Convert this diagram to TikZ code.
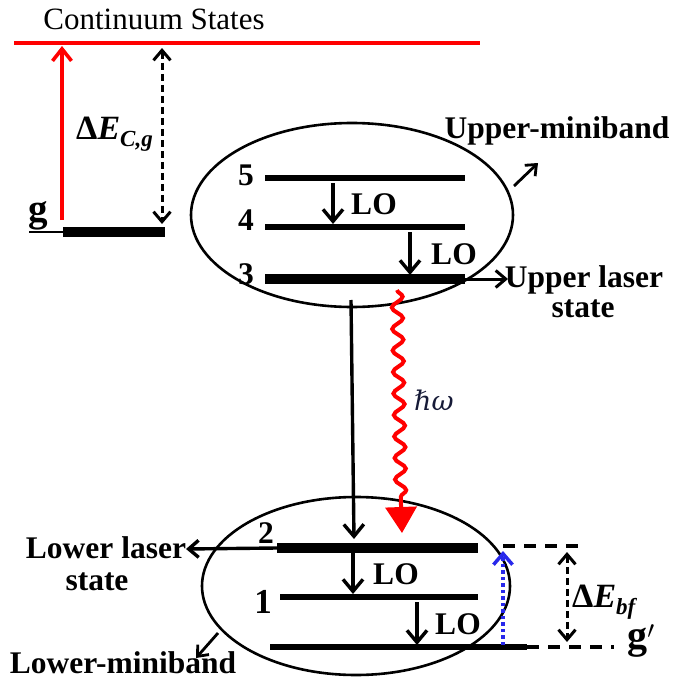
\documentclass[tikz,border=0pt]{standalone}
\usepackage{fontspec}
\setmainfont{Liberation Serif}
\newfontfamily\dvserif{DejaVu Serif}
\usetikzlibrary{arrows.meta,shapes.geometric,decorations.pathmorphing}
\definecolor{navy}{RGB}{22,26,55}
\definecolor{dotblue}{RGB}{40,40,235}
\tikzset{
  lbl/.style={font=\fontsize{31.5}{36}\selectfont\bfseries, anchor=base, inner sep=0pt},
  reg/.style={font=\fontsize{31}{34}\selectfont, anchor=base, inner sep=0pt},
  lvlthin/.style={line width=5.5pt},
  lvlthick/.style={line width=9.5pt},
  barbarrow/.style={line width=3.4pt, -{Straight Barb[length=12pt,width=20pt]}},
  smallarrow/.style={line width=2.8pt, -{Straight Barb[length=9pt,width=15pt]}},
  dbldash/.style={line width=3pt, dash pattern=on 7pt off 4pt, {Straight Barb[length=10pt,width=17pt]}-{Straight Barb[length=10pt,width=17pt]}},
  lvldash/.style={line width=4.5pt, dash pattern=on 12pt off 9pt},
  band/.style={draw, ellipse, line width=2.6pt, inner sep=0pt},
  deltalbl/.style={anchor=base west, inner sep=0pt, font=\fontsize{34}{36}\selectfont\bfseries},
}
\begin{document}
\begin{tikzpicture}[x=1pt,y=-1pt]
\useasboundingbox (0,0) rectangle (681,680);
% ellipses
\node[band, minimum width=322pt, minimum height=184pt] (ub) at (352,215) {};
\node[band, minimum width=308pt, minimum height=178pt] (lb) at (356,586) {};

% continuum
\node[reg] (cont) at (154,30) {Continuum States};
\coordinate (c1) at (14,43); \coordinate (c2) at (480,43);
\draw[red, line width=4.5pt] (c1) -- (c2);

% ground g
\coordinate (g0) at (29,232); \coordinate (g1) at (63,232); \coordinate (g2) at (165,232);
\draw[line width=2.5pt] (g0) -- (g1);
\draw[lvlthick] (g1) -- (g2);
\node[lbl, font=\fontsize{39}{40}\selectfont\bfseries] (glab) at (38,221) {g};
\coordinate (ra) at (62,220); \coordinate (rb) at (62,46);
\draw[red, line width=3.6pt, -{Straight Barb[length=12pt,width=19pt]}] (ra) -- (rb);
\coordinate (da) at (162,48); \coordinate (db) at (162,224);
\draw[dbldash] (da) -- (db);
\node[deltalbl] (dec) at (76,139)
  {Δ{\itshape E}\raisebox{-7pt}{\fontsize{23}{25}\selectfont\bfseries\itshape C,g}};

% upper miniband levels
\coordinate (l5a) at (265,178); \coordinate (l5b) at (465,178);
\coordinate (l4a) at (265,227); \coordinate (l4b) at (465,227);
\coordinate (l3a) at (265,279); \coordinate (l3b) at (465,279);
\draw[lvlthin] (l5a) -- (l5b);
\draw[lvlthin] (l4a) -- (l4b);
\draw[lvlthick] (l3a) -- (l3b);
\node[lbl] (n5) at (246,185) {5};
\node[lbl] (n4) at (246,230) {4};
\node[lbl] (n3) at (246,284) {3};
\coordinate (lo1a) at (333,183); \coordinate (lo1b) at (333,224);
\coordinate (lo2a) at (410,232); \coordinate (lo2b) at (410,275);
\draw[barbarrow] (lo1a) -- (lo1b);
\draw[barbarrow] (lo2a) -- (lo2b);
\node[lbl] (lo1) at (374,214) {LO};
\node[lbl] (lo2) at (454,264) {LO};
\coordinate (u3e) at (508,279);
\draw[line width=3pt, -{Straight Barb[length=10pt,width=17pt]}] (l3b) -- (u3e);
\node[lbl] (ul1) at (584,287) {Upper laser};
\node[lbl] (ul2) at (583,317) {state};
\node[lbl] (umb) at (557,138) {Upper-miniband};
\coordinate (ua1) at (514,186); \coordinate (ua2) at (538,163);
\draw[smallarrow] (ua1) -- (ua2);

% transitions
\coordinate (t1) at (351,300); \coordinate (t2) at (354,539);
\draw[line width=3.4pt, -{Straight Barb[length=12pt,width=20pt]}] (t1) -- (t2);
\coordinate (w1) at (397,290); \coordinate (w2) at (401,505); \coordinate (w3) at (402,533);
\draw[red, line width=4pt, decorate, decoration={snake, amplitude=5.5pt, segment length=21.5pt}] (w1) -- (w2);
\draw[red, line width=4pt, -{Triangle[length=26pt,width=31pt]}] (w2) -- (w3);
\node[anchor=base west, inner sep=0pt, text=navy, font=\dvserif\itshape\fontsize{27}{30}\selectfont] (hw) at (414,410) {ℏω};

% lower miniband levels
\coordinate (l2a) at (277,548); \coordinate (l2b) at (478,548);
\coordinate (l1a) at (280,597); \coordinate (l1b) at (478,597);
\coordinate (l0a) at (270,647); \coordinate (l0b) at (527,647);
\draw[lvlthick] (l2a) -- (l2b);
\draw[lvlthin] (l1a) -- (l1b);
\draw[lvlthin] (l0a) -- (l0b);
\node[lbl] (n2) at (266,543) {2};
\node[lbl, font=\fontsize{35}{38}\selectfont\bfseries] (n1) at (263,613) {1};
\coordinate (lla) at (186,549);
\draw[line width=3.4pt, -{Straight Barb[length=10pt,width=17pt]}] (l2a) -- (lla);
\node[lbl] (ll1) at (106,558) {Lower laser};
\node[lbl] (ll2) at (97,590) {state};
\coordinate (lo3a) at (353,553); \coordinate (lo3b) at (353,594);
\coordinate (lo4a) at (417,602); \coordinate (lo4b) at (417,645);
\draw[barbarrow] (lo3a) -- (lo3b);
\draw[barbarrow] (lo4a) -- (lo4b);
\node[lbl] (lo3) at (396,584) {LO};
\node[lbl] (lo4) at (458,634) {LO};
\coordinate (la1) at (218,633); \coordinate (la2) at (196,658);
\draw[smallarrow] (la1) -- (la2);
\node[lbl] (lmb) at (123,673) {Lower-miniband};

% right side
\coordinate (d2a) at (503,546); \coordinate (d2b) at (585,546);
\coordinate (d0a) at (527,647); \coordinate (d0b) at (614,647);
\draw[lvldash] (d2a) -- (d2b);
\draw[lvldash] (d0a) -- (d0b);
\coordinate (ba) at (503,645); \coordinate (bb) at (503,551);
\draw[dotblue, line width=3.5pt, dash pattern=on 3.5pt off 3pt, -{Straight Barb[length=11pt,width=19pt]}] (ba) -- (bb);
\coordinate (ea) at (567,552); \coordinate (eb) at (567,642);
\draw[dbldash] (ea) -- (eb);
\node[deltalbl] (dbf) at (572,607)
  {Δ{\itshape E}\raisebox{-7pt}{\fontsize{23}{25}\selectfont\bfseries\itshape bf}};
\node[lbl, font=\fontsize{40}{42}\selectfont\bfseries] (gp) at (641,648) {g$'$};
\end{tikzpicture}
\end{document}
